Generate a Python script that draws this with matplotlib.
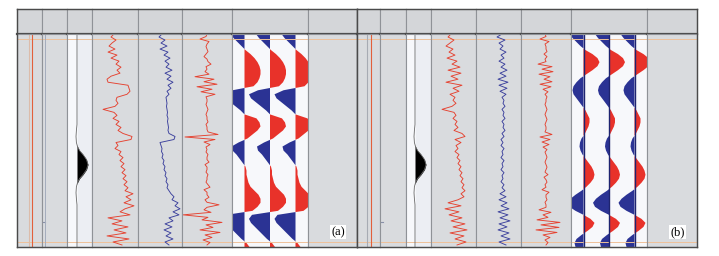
import numpy as np
import matplotlib.pyplot as plt

# ---------------
# Data (pixel-ish units inside each track)
# ---------------

depth_log = np.arange(0, 211, 3)      # 71 samples
depth_spk = np.arange(0, 211, 2.5)    # 85 samples
depth_wig = np.arange(0, 213, 4)      # 54 samples

red_a = [22, 19, 24, 20, 17, 23, 16, 25, 19, 27, 24, 29, 25, 28, 19, 15, 16, 36, 37, 38,
         35, 25, 24, 26, 23, 11, 22, 25, 21, 27, 24, 29, 26, 31, 40, 39, 24, 26, 23, 29,
         27, 31, 28, 32, 29, 33, 30, 34, 31, 35, 32, 36, 33, 41, 34, 39, 32, 42, 33, 28,
         38, 16, 30, 20, 36, 22, 34, 15, 37, 21, 30]
blue_a = [24, 21, 27, 23, 29, 22, 30, 26, 32, 27, 31, 28, 34, 27, 33, 29, 35, 30, 33, 29,
          31, 28, 28.5, 29, 28.5, 29, 29.5, 29, 30, 29.5, 30, 30.5, 30, 31, 37, 36, 22, 23, 24, 23.5,
          25, 24, 26, 25, 27, 26, 28, 27, 29, 28, 30, 29, 31, 33, 36, 34, 40, 37, 42, 35,
          41, 31, 35, 27, 34, 26, 33, 28, 35, 27, 31]
spike_a = [25, 24, 18, 27, 25, 24,
           25, 26, 24, 22, 25, 26, 29, 24, 25, 23, 27,
           13, 32, 22, 35, 15, 30, 19, 33, 24,
           25, 25, 24, 25, 26, 25, 24, 25, 25, 26, 24, 25, 25, 26,
           36, 3, 33, 22, 28, 24,
           25, 24, 26, 25, 25, 27, 23, 25, 25, 24, 26, 25, 25, 24, 26, 28, 22, 25, 25, 27, 23, 25,
           37, 25, 22, 29, 1, 26, 20, 40, 24, 31, 18, 38, 23, 30, 21, 28, 25]
wiggle_a = [-14, -11, -7, -3, 1, 6, 10, 13, 15, 16, 16, 15, 13, 9, -12, -21, -19, -14, -9, -4,
            0, 12, 15, 16, 13, 8, 3, -6, -13, -12, -8, -5, -2, 1, 2, 2, 3, 4, 6, 10,
            14, 16, 16, 13, 8, -18, -21, -19, -15, -11, -7, -3, 2, 5]

red_b = [20, 17, 23, 19, 15, 22, 18, 24, 16, 26, 21, 29, 17, 30, 20, 27, 15, 31, 22, 28,
         19, 24, 22, 25, 21, 11, 23, 25, 22, 26, 24, 27, 23, 31, 34, 24, 30, 25, 27, 24,
         28, 26, 29, 27, 30, 28, 31, 29, 32, 30, 33, 31, 34, 30, 33, 27, 17, 30, 14, 28,
         18, 31, 20, 34, 22, 36, 19, 33, 24, 35, 26]
blue_b = [26, 21, 29, 23, 27, 24, 30, 25, 28, 23, 29, 25, 31, 24, 30, 22, 32, 23, 31, 24,
          30, 26, 28, 27, 29, 26, 28, 27, 29, 26, 28, 27, 29, 26, 28, 25, 27, 25, 28, 26,
          27, 25, 28, 26, 27, 25, 28, 26, 27, 25, 28, 26, 29, 24, 30, 23, 31, 25, 33, 22,
          32, 24, 34, 23, 31, 22, 33, 25, 34, 23, 30]
spike_b = [24, 25, 19, 28, 24, 25,
           25, 26, 23, 26, 24, 25,
           17, 31, 21, 32, 18, 29, 23, 31, 19, 30, 22, 27, 24, 26,
           25, 25, 24, 25, 26, 25, 24, 25, 26, 25, 24, 25, 25, 24,
           31, 19, 29, 21, 28, 22, 26, 24,
           25, 26, 25, 24, 25, 26, 25, 24, 27, 23, 25, 26, 24, 25, 21, 28, 25, 25, 26, 24, 25, 25,
           18, 30, 22, 27, 16, 39, 20, 38, 15, 36, 22, 29, 24, 27, 25]
wiggle_b = [-14, -11, -7, -3, 2, 9, 14, 16, 14, 9, 3, -3, -7, -10, -11, -10, -7, -4, -1, 2,
            4, 6, 6, 5, 3, 1, -2, -3.5, -4, -3, -1, 2, 5, 8, 10, 11, 10, 7, 3, -2,
            -8, -13, -16, -14, -8, 0, 7, 11, 9, 4, -2, -7, -9, -8]

# wavelet
wav_depth = [0, 90, 96, 102, 108, 112, 116, 120, 125, 130, 135, 140, 144, 148, 152, 158, 164, 170, 212]
wav_amp = [0, 0, -0.6, -1, -0.6, 0.5, 2.5, 6, 9.5, 11, 9.5, 6, 2.5, 0.5, -0.6, -1, -0.6, 0, 0]

# horizontal marker depths (orange lines)
marker_depths = [5, 207]

# ---------------
# Layout / style
# ---------------

W, H = 719, 256
top, head, bottom = 9, 34, 247
edges_a = [17, 42, 67, 92, 138, 182, 232, 308, 357]
edges_b = [357, 380, 406, 431, 476, 521, 571, 647, 697]
trace_offsets = [12.5, 38, 63.5]

c_head = '#d4d6d9'
c_bg = '#d9dbde'
c_sep = '#8f9297'
c_frame = '#4a4a4a'
c_red = '#e8322a'
c_blue = '#2b3394'
c_log_red = '#e5412f'
c_log_blue = '#3a3f9c'
c_orange = '#efc199'
c_white = '#f7f8fb'

fig = plt.figure(figsize=(W / 100, H / 100), dpi=100)
fig.patch.set_facecolor('white')


def px_axes(x0, x1, y0, y1):
    ax = fig.add_axes([x0 / W, 1 - y1 / H, (x1 - x0) / W, (y1 - y0) / H])
    ax.set_xticks([])
    ax.set_yticks([])
    return ax


def draw_panel(edges, red, blue, spike, wiggle, wav_base, label, extra_lines, baseline_line):
    data_axes = []
    for i in range(len(edges) - 1):
        x0, x1 = edges[i], edges[i + 1]
        hax = px_axes(x0, x1, top, head)
        hax.set_facecolor(c_head)
        for s in hax.spines.values():
            s.set_color(c_sep)
            s.set_linewidth(0.8)
        hax.spines['bottom'].set_color(c_frame)
        hax.spines['bottom'].set_linewidth(1.6)

        ax = px_axes(x0, x1, head, bottom)
        ax.set_facecolor(c_bg)
        ax.set_xlim(0, x1 - x0)
        ax.set_ylim(212, 0)
        for s in ax.spines.values():
            s.set_color(c_sep)
            s.set_linewidth(0.8)
        data_axes.append(ax)

    t1, t2, twav, tred, tblue, tspk, twig, tlast = data_axes

    # orange depth markers across all tracks
    for ax in data_axes:
        for d in marker_depths:
            ax.axhline(d, color=c_orange, lw=0.7)

    # reference lines in first tracks
    for xr, col in extra_lines:
        t1.axvline(xr, color=col, lw=0.8)
    t2.plot([0, 3], [187, 187], color='#8890a8', lw=0.8)
    if label == '(a)':
        t2.axvline(3, color='#a4acbc', lw=0.7)

    # wavelet track
    twav.set_facecolor(c_white)
    twav.axvspan(wav_base + 1, 25, color='#eceef3', lw=0)
    amp = np.array(wav_amp)
    twav.fill_betweenx(wav_depth, wav_base, wav_base + amp, where=amp > 0,
                       interpolate=True, color='black', lw=0)
    twav.plot(wav_base + amp, wav_depth, color='#6a6a6a', lw=0.6)

    # logs
    tred.plot(red, depth_log, color=c_log_red, lw=0.65)
    tblue.plot(blue, depth_log, color=c_log_blue, lw=0.65)
    tspk.plot(spike, depth_spk, color=c_log_red, lw=0.65)

    # wiggle traces
    twig.set_facecolor(c_white)
    w = np.array(wiggle)
    for off in trace_offsets:
        twig.fill_betweenx(depth_wig, off, off + w, where=w > 0,
                           interpolate=True, color=c_red, lw=0)
        twig.fill_betweenx(depth_wig, off, off + w, where=w < 0,
                           interpolate=True, color=c_blue, lw=0)
        if baseline_line:
            twig.axvline(off, color='#1e2470', lw=1.0)

    tlast.text(0.61, 0.07, label, transform=tlast.transAxes, ha='center', va='center',
               fontsize=9, family='Liberation Serif',
               bbox=dict(facecolor='white', edgecolor='none', pad=1.0))

    # outer frame
    frame = px_axes(edges[0], edges[-1], top, bottom)
    frame.set_facecolor('none')
    for s in frame.spines.values():
        s.set_color(c_frame)
        s.set_linewidth(1.0)


draw_panel(edges_a, red_a, blue_a, spike_a, wiggle_a, 10, '(a)',
           [(12, '#dcbcaa'), (15, '#e2603c')], False)
draw_panel(edges_b, red_b, blue_b, spike_b, wiggle_b, 9, '(b)',
           [(10, '#a7abb3'), (14, '#e2603c')], True)

plt.savefig('out.png', dpi=100)
